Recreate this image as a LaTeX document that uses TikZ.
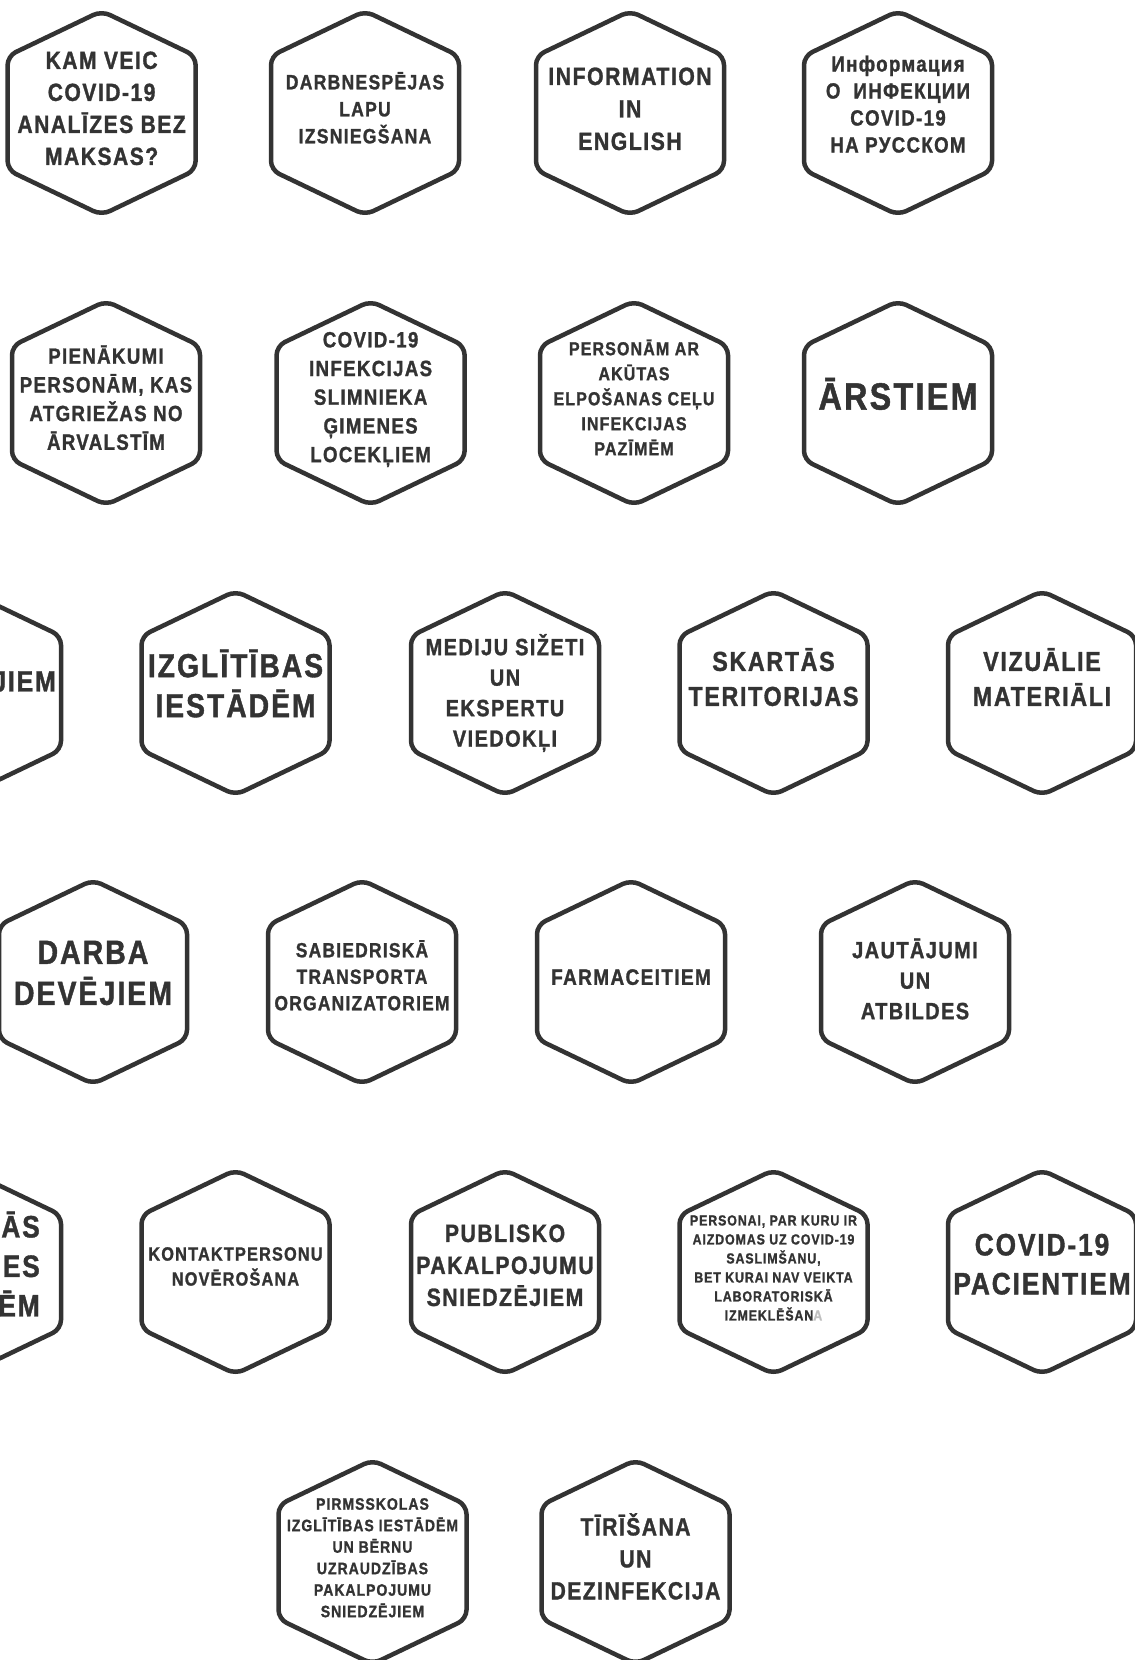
\documentclass[tikz,border=0pt]{standalone}
\usepackage{fontspec}
\newfontfamily\hexfont{Liberation Sans}[FakeStretch=0.85,LetterSpace=6,BoldFeatures={FakeBold=1.2}]
\usetikzlibrary{positioning}
\definecolor{ink}{HTML}{333333}
\newcommand{\hxsize}[2]{\hexfont\bfseries\fontsize{#1}{#2}\selectfont}
\tikzset{font=\hexfont\bfseries}
\tikzset{hexline/.style={draw=ink, line width=4.5pt, rounded corners=9pt}}

\begin{document}
\begin{tikzpicture}[x=1pt, y=-1pt]
	\useasboundingbox (0,0) rectangle (1135,1660);
	\fill[white] (0,0) rectangle (1135,1660);
	\clip (0,0) rectangle (1135,1660);

	% hexagon frames
	\foreach \x/\y in {101.6/113, 365/113, 630/113, 898/113,
			106/403, 370.6/403, 634/403, 898/403,
			-33/693, 235.5/693, 505/693, 773.5/693, 1042/693,
			93/982, 362/982, 631/982, 915/982,
			-33/1272, 235.5/1272, 505/1272, 773.5/1272, 1042/1272,
			372.5/1562, 635.5/1562}
		\draw[hexline] (\x-94,\y) -- ++(0,-57) -- ++(94,-45) -- ++(94,45)
			-- ++(0,114) -- ++(-94,45) -- ++(-94,-45) -- cycle;

	\begin{scope}
		\tikzstyle{every node}=[align=center, inner sep=0pt, text=ink,
			execute at begin node=\vphantom{Ā}, execute at end node=\vphantom{Ļ}]
		% row 1
		\node[font=\hxsize{24.8}{32}] (kam) at (101.6,111) {KAM VEIC\\COVID-19\\ANALĪZES BEZ\\MAKSAS?};
		\node[font=\hxsize{20.7}{27}] (darbnesp) at (365,110) {DARBNESPĒJAS\\LAPU\\IZSNIEGŠANA};
		\node[font=\hxsize{25}{32.5}] (english) at (630,111.5) {INFORMATION\\IN\\ENGLISH};
		\node[font=\hxsize{22}{27}] (russian) at (898,106.5) {Информация\\О\ \ ИНФЕКЦИИ\\COVID-19\\НА РУССКОМ};

		% row 2
		\node[font=\hxsize{22}{28.7}] (pienakumi) at (106,400) {PIENĀKUMI\\PERSONĀM, KAS\\ATGRIEŽAS NO\\ĀRVALSTĪM};
		\node[font=\hxsize{22}{28.7}] (gimene) at (370.6,399.5) {COVID-19\\INFEKCIJAS\\SLIMNIEKA\\ĢIMENES\\LOCEKĻIEM};
		\node[font=\hxsize{18.8}{25}] (akutas) at (634,399.5) {PERSONĀM AR\\AKŪTAS\\ELPOŠANAS CEĻU\\INFEKCIJAS\\PAZĪMĒM};
		\node[font=\hxsize{38}{40}] (arstiem) at (898,398) {ĀRSTIEM};

		% row 3
		\node[font=\hxsize{29.3}{40}, anchor=east] (jiem) at (56,682.5) {JIEM};
		\node[font=\hxsize{33.3}{40}] (izglitiba) at (235.5,687) {IZGLĪTĪBAS\\IESTĀDĒM};
		\node[font=\hxsize{23.5}{30.5}] (mediji) at (505,693) {MEDIJU SIŽETI\\UN\\EKSPERTU\\VIEDOKĻI};
		\node[font=\hxsize{27.4}{35}] (skartas) at (773.5,680) {SKARTĀS\\TERITORIJAS};
		\node[font=\hxsize{27.4}{35}] (vizualie) at (1042,680) {VIZUĀLIE\\MATERIĀLI};

		% row 4
		\node[font=\hxsize{33.5}{41}] (darba) at (93,976.5) {DARBA\\DEVĒJIEM};
		\node[font=\hxsize{20.5}{26.5}] (transports) at (362,977.5) {SABIEDRISKĀ\\TRANSPORTA\\ORGANIZATORIEM};
		\node[font=\hxsize{22.4}{28}] (farmac) at (631,978) {FARMACEITIEM};
		\node[font=\hxsize{23.5}{30.5}] (jautajumi) at (915,981.5) {JAUTĀJUMI\\UN\\ATBILDES};

		% row 5
		\node[font=\hxsize{31}{39.5}, anchor=east, align=right] (iestadem) at (40,1267.5) {ĀS\\ES\\ĒM};
		\node[font=\hxsize{19.2}{25}] (kontakt) at (235.5,1268.5) {KONTAKTPERSONU\\NOVĒROŠANA};
		\node[font=\hxsize{25}{32}] (publisko) at (505,1268) {PUBLISKO\\PAKALPOJUMU\\SNIEDZĒJIEM};
		\node[font=\hxsize{14.6}{19}] (aizdomas) at (773.5,1269.5) {PERSONAI, PAR KURU IR\\AIZDOMAS UZ COVID-19\\SASLIMŠANU,\\BET KURAI NAV VEIKTA\\LABORATORISKĀ\\IZMEKLĒŠAN{\color{black!25}A}};
		\node[font=\hxsize{31}{39}] (pacientiem) at (1042,1267.5) {COVID-19\\PACIENTIEM};

		% row 6
		\node[font=\hxsize{16.5}{21.5}] (pirmsskola) at (372.5,1559.5) {PIRMSSKOLAS\\IZGLĪTĪBAS IESTĀDĒM\\UN BĒRNU\\UZRAUDZĪBAS\\PAKALPOJUMU\\SNIEDZĒJIEM};
		\node[font=\hxsize{24.8}{32}] (tirisana) at (635.5,1559) {TĪRĪŠANA\\UN\\DEZINFEKCIJA};
	\end{scope}
\end{tikzpicture}
\end{document}
